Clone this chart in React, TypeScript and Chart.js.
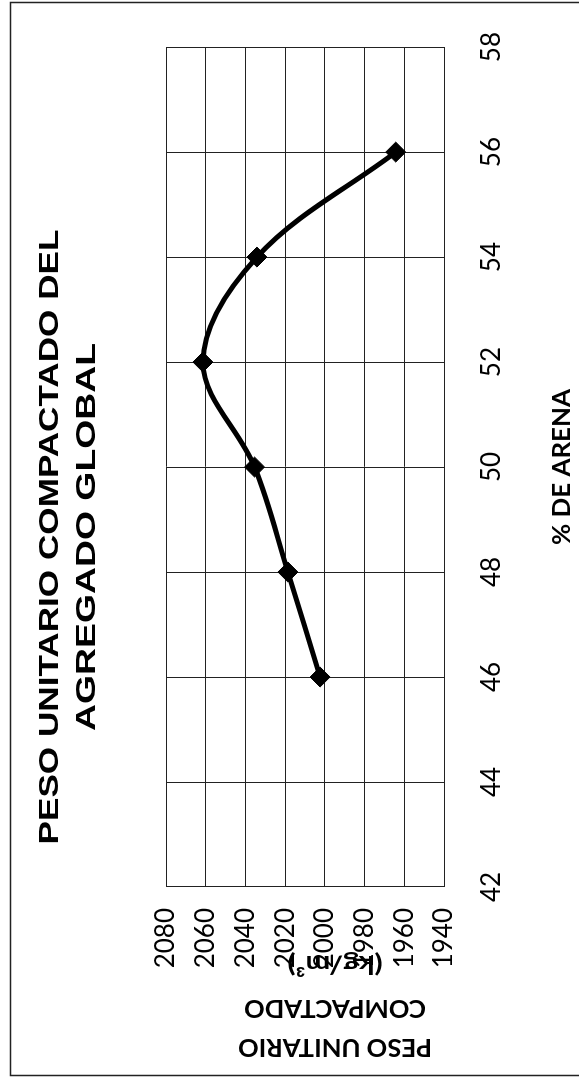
import React, { useEffect, useRef } from "react";
import { Chart, registerables } from "chart.js";

Chart.register(...registerables);

// Ensayo de peso unitario compactado vs. porcentaje de arena
const arenaPct = [46, 48, 50, 52, 54, 56];
const pesoUnitario = [2002.4, 2018.6, 2035.4, 2061.4, 2034.2, 1964.3];

const xMin = 42;
const xMax = 58;
const xStep = 2;
const yMin = 1940;
const yMax = 2080;
const yStep = 20;

const titleLines = ["PESO UNITARIO COMPACTADO DEL", "AGREGADO GLOBAL"];
const xAxisTitle = "% DE ARENA";
const yAxisTitleLines = ["PESO UNITARIO", "COMPACTADO", "(kg/m³)"];

// The chart is laid out landscape and the sheet is turned a quarter turn.
const W = 1077;
const H = 579;

function fitText(
  ctx: CanvasRenderingContext2D,
  text: string,
  x: number,
  y: number,
  font: string,
  width: number,
  angle: number
) {
  ctx.save();
  ctx.font = font;
  const natural = ctx.measureText(text).width || 1;
  ctx.translate(x, y);
  ctx.rotate(angle);
  ctx.scale(width / natural, 1);
  ctx.textAlign = "center";
  ctx.textBaseline = "alphabetic";
  ctx.fillStyle = "#000";
  ctx.fillText(text, 0, 0);
  ctx.restore();
}

const sheetPlugin = {
  id: "sheet",
  beforeDraw(chart: any) {
    const ctx: CanvasRenderingContext2D = chart.ctx;
    ctx.save();
    ctx.fillStyle = "#fff";
    ctx.fillRect(0, 0, chart.width, chart.height);
    ctx.strokeStyle = "#222";
    ctx.lineWidth = 1.5;
    ctx.beginPath();
    ctx.moveTo(1.5, chart.height);
    ctx.lineTo(1.5, 10.5);
    ctx.lineTo(1074.5, 10.5);
    ctx.lineTo(1074.5, chart.height);
    ctx.stroke();
    ctx.restore();
  },
  afterDraw(chart: any) {
    const ctx: CanvasRenderingContext2D = chart.ctx;
    const area = chart.chartArea;
    // main title
    fitText(ctx, titleLines[0], 540, 58, 'bold 28px "Liberation Sans"', 615, 0);
    fitText(ctx, titleLines[1], 540, 95, 'bold 28px "Liberation Sans"', 388, 0);
    // x axis title
    fitText(ctx, xAxisTitle, (area.left + area.right) / 2, 570, "bold 25px Lato", 156, 0);
    // y axis title
    const yBase = [38, 77, 121];
    const yWidths = [194, 182, 95];
    yAxisTitleLines.forEach((t, i) => {
      fitText(ctx, t, yBase[i], 335, "bold 24px Lato", yWidths[i], -Math.PI / 2);
    });
  },
};

export default function App() {
  const ref = useRef<HTMLCanvasElement | null>(null);

  useEffect(() => {
    if (!ref.current) return;
    const points = arenaPct.map((x, i) => ({ x, y: pesoUnitario[i] }));
    const chart = new Chart(ref.current, {
      type: "line",
      data: {
        datasets: [
          {
            data: points,
            borderColor: "#000",
            backgroundColor: "#000",
            borderWidth: 5,
            tension: 0.35,
            pointStyle: "rectRot",
            pointRadius: 10,
            pointBackgroundColor: "#000",
            pointBorderColor: "#000",
            pointBorderWidth: 1,
            clip: false as any,
          },
        ],
      },
      options: {
        animation: false,
        responsive: false,
        devicePixelRatio: 1,
        layout: { padding: { left: 0, top: 166, right: 45, bottom: 0 } },
        plugins: {
          legend: { display: false },
          title: { display: false },
          tooltip: { enabled: false },
        },
        scales: {
          x: {
            type: "linear",
            min: xMin,
            max: xMax,
            afterFit: (s: any) => {
              s.height = H - 444;
            },
            ticks: {
              stepSize: xStep,
              padding: 32,
              color: "#000",
              font: { family: "Lato", size: 26 },
              callback: (v: any) => String(v),
            },
            grid: { color: "#222", lineWidth: 1, drawTicks: false },
            border: { color: "#222", width: 1 },
          },
          y: {
            type: "linear",
            min: yMin,
            max: yMax,
            afterFit: (s: any) => {
              s.width = 190;
            },
            ticks: {
              stepSize: yStep,
              padding: 21,
              color: "#000",
              font: { family: "Lato", size: 26 },
              callback: (v: any) => String(v),
            },
            grid: { color: "#222", lineWidth: 1, drawTicks: false },
            border: { color: "#222", width: 1 },
          },
        },
      },
      plugins: [sheetPlugin],
    });
    return () => chart.destroy();
  }, []);

  return (
    <div
      style={{
        position: "fixed",
        left: 0,
        top: 0,
        width: H,
        height: W,
        overflow: "hidden",
        background: "#fff",
      }}
    >
      <div
        style={{
          position: "absolute",
          left: 0,
          top: 0,
          width: W,
          height: H,
          transformOrigin: "0 0",
          transform: `translate(0px, ${W}px) rotate(-90deg)`,
        }}
      >
        <canvas ref={ref} width={W} height={H} style={{ display: "block", width: W, height: H }} />
      </div>
    </div>
  );
}
